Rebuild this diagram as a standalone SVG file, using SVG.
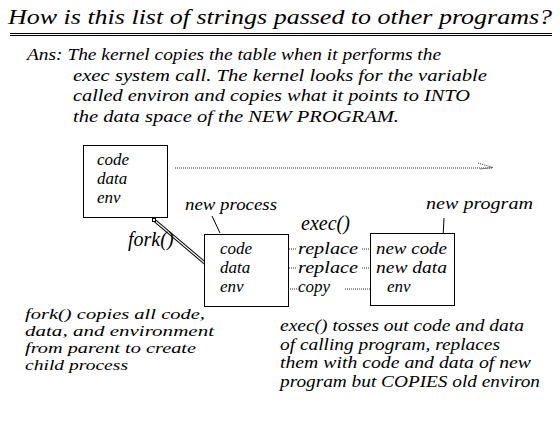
<svg xmlns="http://www.w3.org/2000/svg" width="560" height="440" viewBox="0 0 560 440">
  <style>
    text { font-family: "Liberation Serif", "DejaVu Serif", serif; font-style: italic; fill: #000; }
    .title { font-size: 22px; }
    .body { font-size: 17px; }
    .note { font-size: 15px; }
    .lbl { font-size: 17px; }
    .big { font-size: 20px; }
    .box { fill: #fff; stroke: #000; stroke-width: 1; }
    .dot { stroke: #333; stroke-width: 1; stroke-dasharray: 1 1; fill: none; }
    .thin { stroke: #000; stroke-width: 1; fill: none; }
  </style>
  <rect width="560" height="440" fill="#fff"/>

  <!-- heading -->
  <g id="heading">
    <text class="title" x="8" y="24" textLength="544" lengthAdjust="spacingAndGlyphs">How is this list of strings passed to other programs?</text>
    <line x1="10" y1="33.5" x2="552" y2="33.5" class="thin"/>
    <line x1="10" y1="35.5" x2="552" y2="35.5" class="thin"/>
  </g>

  <!-- answer paragraph -->
  <g id="answer">
    <text class="body" x="27" y="60" textLength="414" lengthAdjust="spacingAndGlyphs">Ans: The kernel copies the table when it performs the</text>
    <text class="body" x="73" y="81" textLength="414" lengthAdjust="spacingAndGlyphs">exec system call.  The kernel looks for the variable</text>
    <text class="body" x="73" y="101" textLength="397" lengthAdjust="spacingAndGlyphs">called environ and copies what it points to INTO</text>
    <text class="body" x="73" y="122" textLength="326" lengthAdjust="spacingAndGlyphs">the data space of the NEW PROGRAM.</text>
  </g>

  <!-- connectors -->
  <g id="connectors">
    <!-- time arrow -->
    <line x1="175" y1="168" x2="492" y2="168" class="dot"/>
    <polyline points="478,163 493,167.5 480,169" class="dot"/>
    <!-- fork(): double line from parent to child -->
    <line x1="154" y1="220" x2="206" y2="264" stroke="#000" stroke-width="3.2"/>
    <line x1="154" y1="220" x2="206" y2="264" stroke="#fff" stroke-width="1.2"/>
    <rect x="152.5" y="218.5" width="3" height="3" fill="#fff" stroke="#000" stroke-width="1"/>
    <!-- label pointers -->
    <line x1="212" y1="216" x2="220" y2="233" class="thin"/>
    <line x1="444" y1="218" x2="443" y2="238" class="thin"/>
    <!-- exec() mappings -->
    <line x1="273" y1="249" x2="297" y2="249" class="dot"/>
    <line x1="362" y1="249" x2="373" y2="249" class="dot"/>
    <line x1="273" y1="268" x2="297" y2="268" class="dot"/>
    <line x1="362" y1="268" x2="373" y2="268" class="dot"/>
    <line x1="268" y1="289" x2="297" y2="289" class="dot"/>
    <line x1="345" y1="289" x2="375" y2="289" class="dot"/>
  </g>

  <!-- parent process -->
  <g id="parent">
    <rect class="box" x="83.5" y="145.5" width="84" height="72"/>
    <text class="lbl" x="97" y="165">code</text>
    <text class="lbl" x="97" y="184">data</text>
    <text class="lbl" x="97" y="203">env</text>
  </g>

  <!-- child process after fork() -->
  <g id="new-process">
    <text class="lbl" x="185" y="210" textLength="92" lengthAdjust="spacingAndGlyphs">new process</text>
    <rect class="box" x="204.5" y="234.5" width="84" height="72"/>
    <text class="lbl" x="220" y="254">code</text>
    <text class="lbl" x="220" y="273">data</text>
    <text class="lbl" x="220" y="292">env</text>
  </g>

  <text id="fork-label" class="big" x="128" y="246">fork()</text>

  <!-- exec() actions -->
  <g id="exec">
    <text class="big" x="301" y="230">exec()</text>
    <text class="lbl" x="298" y="254" textLength="60" lengthAdjust="spacingAndGlyphs">replace</text>
    <text class="lbl" x="298" y="273" textLength="60" lengthAdjust="spacingAndGlyphs">replace</text>
    <text class="lbl" x="298" y="292">copy</text>
  </g>

  <!-- program loaded by exec() -->
  <g id="new-program">
    <text class="lbl" x="426" y="209" textLength="107" lengthAdjust="spacingAndGlyphs">new program</text>
    <rect class="box" x="370.5" y="233.5" width="84" height="72"/>
    <text class="lbl" x="376" y="254" textLength="71" lengthAdjust="spacingAndGlyphs">new code</text>
    <text class="lbl" x="376" y="273" textLength="71" lengthAdjust="spacingAndGlyphs">new data</text>
    <text class="lbl" x="387" y="292">env</text>
  </g>

  <!-- notes -->
  <g id="fork-note">
    <text class="note" x="25" y="319" textLength="180" lengthAdjust="spacingAndGlyphs">fork() copies all code,</text>
    <text class="note" x="25" y="336" textLength="189" lengthAdjust="spacingAndGlyphs">data, and environment</text>
    <text class="note" x="25" y="353" textLength="171" lengthAdjust="spacingAndGlyphs">from parent to create</text>
    <text class="note" x="25" y="370" textLength="103" lengthAdjust="spacingAndGlyphs">child process</text>
  </g>
  <g id="exec-note">
    <text class="body" x="280" y="331" textLength="244" lengthAdjust="spacingAndGlyphs">exec() tosses out code and data</text>
    <text class="body" x="280" y="350" textLength="220" lengthAdjust="spacingAndGlyphs">of calling program, replaces</text>
    <text class="body" x="280" y="368" textLength="251" lengthAdjust="spacingAndGlyphs">them with code and data of new</text>
    <text class="body" x="280" y="387" textLength="260" lengthAdjust="spacingAndGlyphs">program but COPIES old environ</text>
  </g>
</svg>
